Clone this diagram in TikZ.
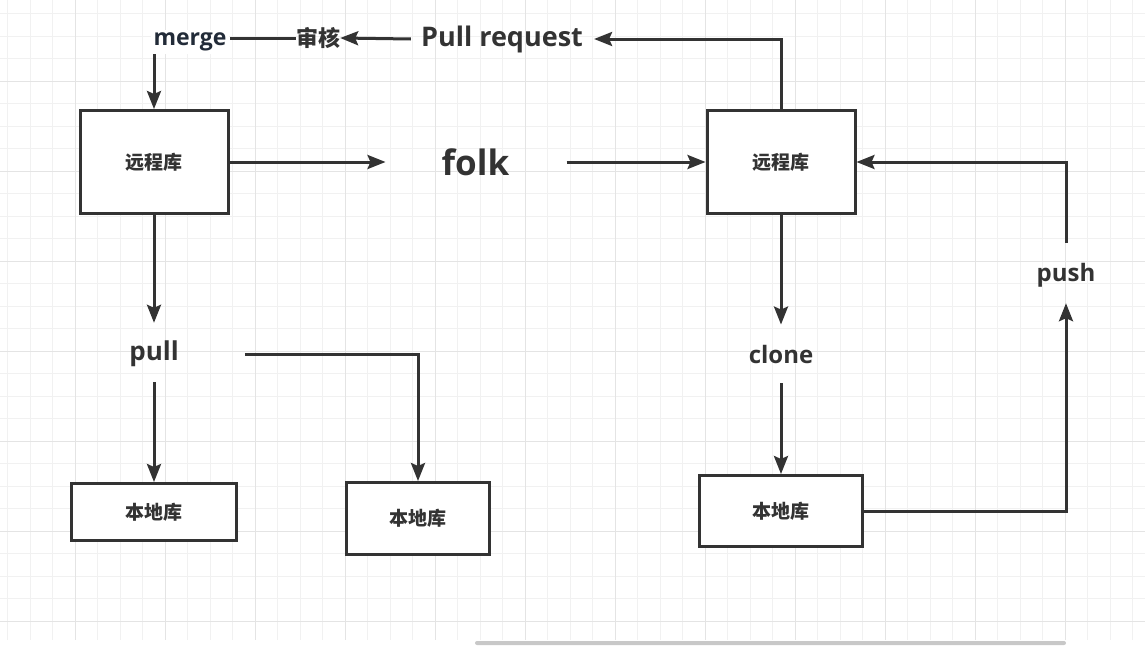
\documentclass[tikz,border=0pt]{standalone}
\usepackage{fontspec}
\newfontfamily\latinfont{Open Sans}
\newfontfamily\cjkfont{Noto Sans CJK SC}
\usepackage{tikz}
\usetikzlibrary{arrows.meta}
\definecolor{ink}{HTML}{333333}
\definecolor{mergeink}{HTML}{222B38}
\definecolor{gridfine}{HTML}{F1F1F1}
\definecolor{gridbold}{HTML}{E4E4E4}
\definecolor{barfill}{HTML}{C8C8C8}

\begin{document}
\begin{tikzpicture}[x=1pt, y=-1pt,
  repo/.style={draw=ink, line width=3pt, fill=white, inner sep=0pt, text=ink,
               font=\cjkfont\bfseries\fontsize{19}{22}\selectfont},
  lbl/.style={inner sep=0pt, text=ink, font=\latinfont\bfseries\fontsize{24}{28}\selectfont},
  arr/.style={-{Stealth[length=18pt, width=14pt, inset=3pt]}, line width=3pt, draw=ink},
  wire/.style={line width=3pt, draw=ink}
]
\useasboundingbox (0,0) rectangle (1145,645);
\foreach \gx in {7.5,30,...,1145} \draw[gridfine, line width=1pt] (\gx,0) -- (\gx,640);
\foreach \gy in {13.5,36,...,640} \draw[gridfine, line width=1pt] (0,\gy) -- (1145,\gy);
\foreach \gx in {75,165,...,1145} \draw[gridbold, line width=1pt] (\gx,0) -- (\gx,640);
\foreach \gy in {81,171,...,640} \draw[gridbold, line width=1pt] (0,\gy) -- (1145,\gy);
\fill[barfill, rounded corners=2pt] (475,641) rectangle (1066,645);

\node[repo, minimum width=148pt, minimum height=103pt] (remoteA) at (154,162) {远程库};
\node[repo, minimum width=148pt, minimum height=103pt] (remoteB) at (781,162) {远程库};
\node[repo, minimum width=165pt, minimum height=57pt] (localA) at (154,512) {本地库};
\node[repo, minimum width=143pt, minimum height=72pt] (localB) at (418,518.5) {本地库};
\node[repo, minimum width=163pt, minimum height=71pt] (localC) at (781,511) {本地库};

\node[lbl, font=\latinfont\bfseries\fontsize{35}{40}\selectfont] (folk) at (475.5,162) {folk};
\node[lbl, font=\latinfont\bfseries\fontsize{26}{30}\selectfont] (pull) at (154,354) {pull};
\node[lbl] (clone) at (781,354) {clone};
\node[lbl] (push) at (1066,275) {push};
\node[lbl, font=\latinfont\bfseries\fontsize{27}{30}\selectfont] (pullreq) at (502,39) {Pull request};
\node[lbl, font=\cjkfont\bfseries\fontsize{22}{24}\selectfont] (audit) at (318,38) {审核};
\node[lbl, fill=white, inner sep=3pt, text=mergeink,
      font=\latinfont\bfseries\fontsize{23}{26}\selectfont] (merge) at (190,42) {merge};

\draw[arr] (merge.south -| remoteA.north) -- (remoteA.north);
\draw[wire] (audit.west) -- (audit.west -| merge.east);
\draw[arr] ([xshift=-10pt]pullreq.west) -- (audit.east);
\draw[arr] (remoteB.north) |- ([xshift=11pt]pullreq.east);
\draw[arr, shorten >=56pt] (remoteA) -- (folk);
\draw[arr, shorten <=57pt] (folk) -- (remoteB);
\draw[arr, shorten >=18pt] (remoteA) -- (pull);
\draw[arr, shorten <=15pt] (pull) -- (localA);
\draw[arr] ([xshift=66pt]pull.east) -| (localB);
\draw[arr, shorten >=20pt] (remoteB) -- (clone);
\draw[arr, shorten <=20pt] (clone) -- (localC);
\draw[arr] (localC) -| ([yshift=-16pt]push.south);
\draw[arr] ([yshift=20pt]push.north) |- (remoteB);
\end{tikzpicture}
\end{document}
